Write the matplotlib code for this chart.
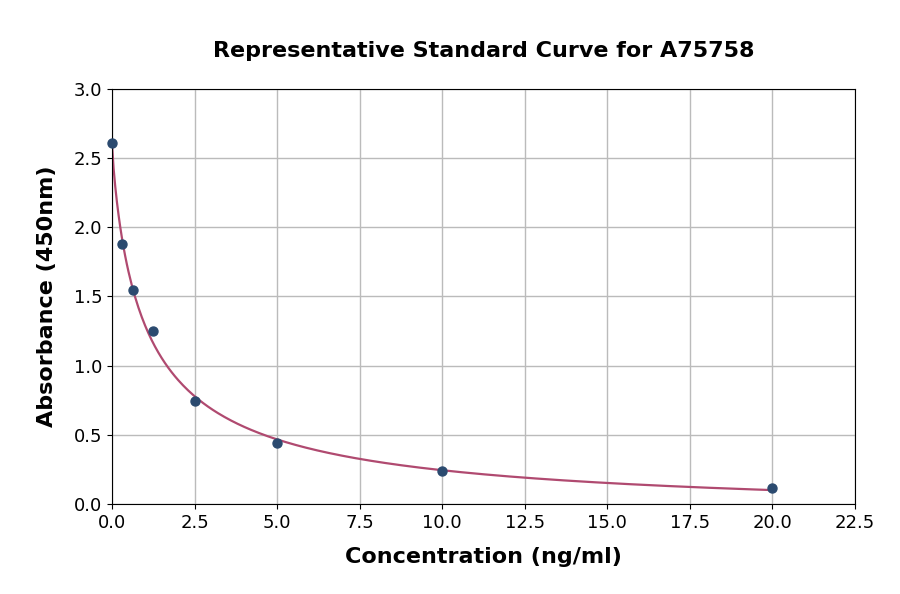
import numpy as np
import matplotlib
matplotlib.use("Agg")
import matplotlib.pyplot as plt

# standard points
conc = np.array([0.0, 0.3125, 0.625, 1.25, 2.5, 5.0, 10.0, 20.0])
absorb = np.array([2.61, 1.88, 1.547, 1.25, 0.745, 0.441, 0.239, 0.116])


def fit_4pl(x, y):
    # grid over slope b and midpoint c, top/bottom solved linearly
    best = None
    for b in np.linspace(0.3, 3.0, 136):
        for c in np.logspace(-2, 2, 200):
            g = 1.0 / (1.0 + (x / c) ** b)
            A = np.column_stack([g, 1.0 - g])
            coef, *_ = np.linalg.lstsq(A, y, rcond=None)
            err = np.sum((A @ coef - y) ** 2)
            if best is None or err < best[0]:
                best = (err, coef[0], coef[1], b, c)
    return best[1:]


top, bottom, b, c = fit_4pl(conc, absorb)
xs = np.linspace(0, conc.max(), 400)
ys = bottom + (top - bottom) / (1.0 + (xs / c) ** b)

fig = plt.figure(figsize=(9, 5.94), dpi=100)
ax = fig.add_axes([0.1244, 0.1515, 0.8256, 0.6987])
ax.plot(xs, ys, color="#b04a70", lw=1.6, zorder=2)
ax.scatter(conc, absorb, s=42, color="#2b4a6f", zorder=3, clip_on=False)

ax.set_xlim(0, 22.5)
ax.set_ylim(0, 3.0)
ax.set_xticks(np.arange(0, 22.6, 2.5))
ax.set_yticks(np.arange(0, 3.01, 0.5))
ax.xaxis.set_major_formatter(matplotlib.ticker.FormatStrFormatter("%.1f"))
ax.yaxis.set_major_formatter(matplotlib.ticker.FormatStrFormatter("%.1f"))
ax.tick_params(labelsize=13)
ax.grid(True, color="#bbbbbb", lw=1)
ax.set_axisbelow(True)

ax.set_title("Representative Standard Curve for A75758", fontsize=16,
             fontweight="bold", pad=23)
ax.set_xlabel("Concentration (ng/ml)", fontsize=16, fontweight="bold", labelpad=11)
ax.set_ylabel("Absorbance (450nm)", fontsize=16, fontweight="bold", labelpad=12)

fig.savefig("out.png", dpi=100)
